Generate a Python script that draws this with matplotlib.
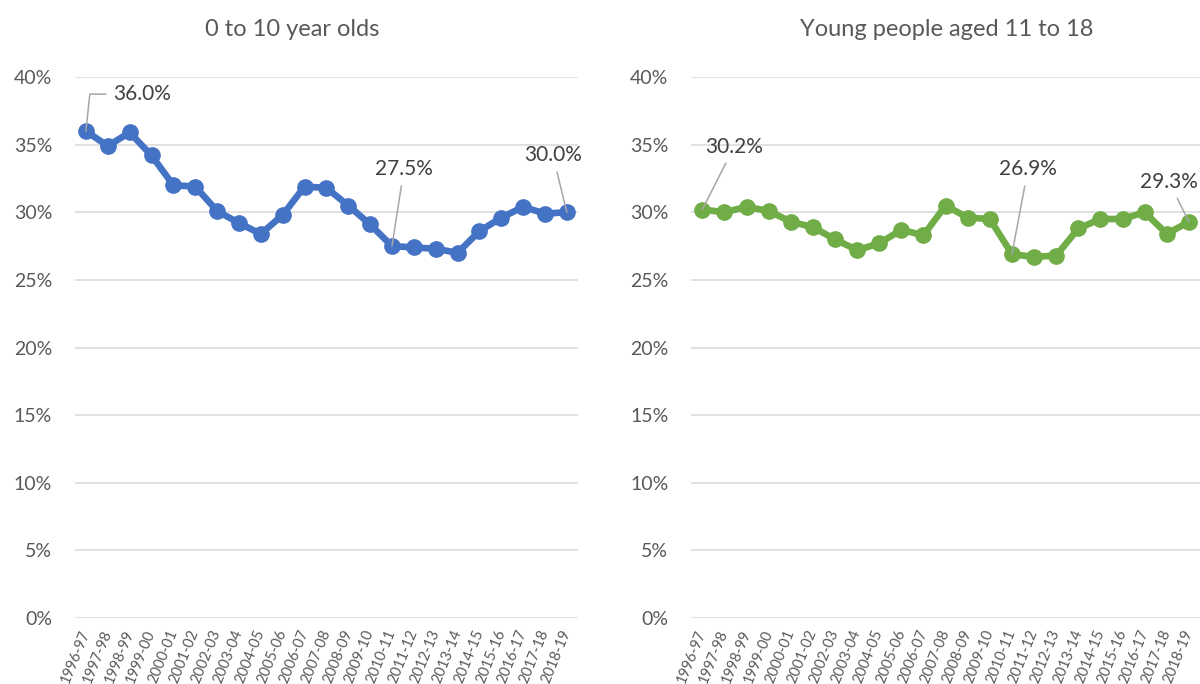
import matplotlib
matplotlib.use("Agg")
import matplotlib.pyplot as plt
from matplotlib.ticker import PercentFormatter
import numpy as np

plt.rcParams["font.family"] = ["Lato", "DejaVu Sans"]

years = ["1996-97", "1997-98", "1998-99", "1999-00", "2000-01", "2001-02",
         "2002-03", "2003-04", "2004-05", "2005-06", "2006-07", "2007-08",
         "2008-09", "2009-10", "2010-11", "2011-12", "2012-13", "2013-14",
         "2014-15", "2015-16", "2016-17", "2017-18", "2018-19"]

# share (%) by year
children_0_10 = [36.0, 34.9, 35.9, 34.2, 32.0, 31.9, 30.1, 29.2, 28.4, 29.8,
                 31.9, 31.8, 30.5, 29.1, 27.5, 27.4, 27.3, 27.0, 28.6, 29.6,
                 30.4, 29.9, 30.0]
young_11_18 = [30.2, 30.0, 30.4, 30.1, 29.3, 28.9, 28.0, 27.2, 27.7, 28.7,
               28.3, 30.5, 29.6, 29.5, 26.9, 26.7, 26.8, 28.8, 29.5, 29.5,
               30.0, 28.4, 29.3]

titles = ["0 to 10 year olds", "Young people aged 11 to 18"]
colors = ["#4472C4", "#70AD47"]

# which points get a label, and where the label sits (offset in pixels)
label_idx = [0, 14, 22]
label_offsets = [
    [(56, 37), (12, 77), (-14, 57)],
    [(32, 63), (16, 85), (-20, 40)],
]

fig = plt.figure(figsize=(12, 6.84), dpi=100)
axes_boxes = [[0.0625, 0.0965, 0.419, 0.7909], [0.576, 0.0965, 0.424, 0.7909]]
title_x = [292 / 1200, 947 / 1200]

x = np.arange(len(years))
for k, series in enumerate([children_0_10, young_11_18]):
    ax = fig.add_axes(axes_boxes[k])
    vals = np.array(series) / 100
    ax.plot(x, vals, color=colors[k], lw=4.8, marker="o", ms=11,
            solid_joinstyle="round", zorder=3)

    ax.set_ylim(0, 0.40)
    ax.set_xlim(-0.5, len(years) - 0.5)
    ax.set_yticks(np.arange(0, 0.41, 0.05))
    ax.yaxis.set_major_formatter(PercentFormatter(1.0, decimals=0))
    ax.set_xticks(x)
    ax.set_xticklabels(years, rotation=68, ha="right", va="center",
                       rotation_mode="anchor")
    ax.tick_params(axis="y", length=0, pad=16.5, labelsize=14, labelcolor="#595959")
    ax.tick_params(axis="x", length=0, pad=9, labelsize=10.5, labelcolor="#595959")
    ax.grid(axis="y", color="#D9D9D9", lw=1.1)
    ax.set_axisbelow(True)
    for s in ax.spines.values():
        s.set_visible(False)

    for j, i in enumerate(label_idx):
        dx, dy = label_offsets[k][j]
        if k == 0 and j == 0:
            conn = "angle,angleA=0,angleB=84,rad=0"
        else:
            conn = "arc3,rad=0"
        ax.annotate(f"{series[i]:.1f}%", xy=(x[i], vals[i]), xytext=(dx, dy),
                    textcoords="offset pixels", ha="center", va="center",
                    fontsize=15, color="#404040", zorder=5,
                    arrowprops=dict(arrowstyle="-", color="#A6A6A6", lw=1.1,
                                    shrinkA=3, shrinkB=0,
                                    connectionstyle=conn))

    fig.text(title_x[k], 1 - 29 / 684, titles[k], ha="center", va="center",
             fontsize=17, color="#595959")

fig.savefig("out.png", dpi=100)
